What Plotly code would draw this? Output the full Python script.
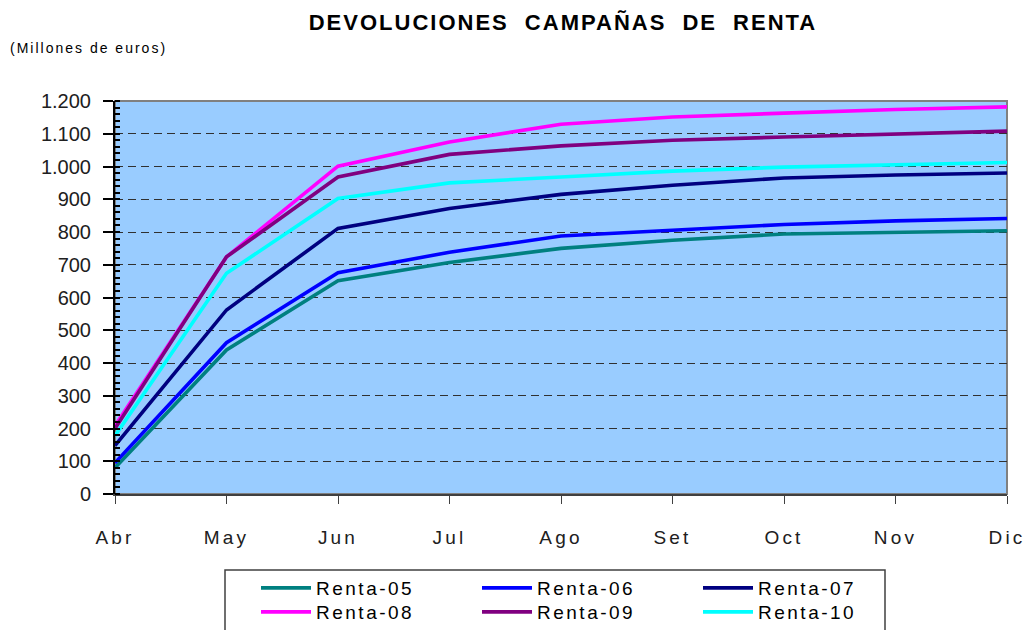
import plotly.graph_objects as go

months = ["Abr", "May", "Jun", "Jul", "Ago", "Set", "Oct", "Nov", "Dic"]
renta_05 = [80, 440, 651, 707, 750, 775, 794, 800, 804]
renta_06 = [95, 462, 676, 738, 788, 806, 823, 834, 841]
renta_07 = [148, 562, 811, 872, 915, 943, 965, 974, 980]
renta_08 = [208, 724, 1001, 1075, 1129, 1151, 1163, 1174, 1182]
renta_09 = [200, 724, 968, 1037, 1063, 1080, 1090, 1100, 1108]
renta_10 = [178, 674, 902, 950, 968, 986, 998, 1006, 1012]

series_names = ["Renta-05", "Renta-06", "Renta-07", "Renta-08", "Renta-09", "Renta-10"]
series_values = [renta_05, renta_06, renta_07, renta_08, renta_09, renta_10]
series_colors = ["#008080", "#0000FF", "#000080", "#FF00FF", "#800080", "#00FFFF"]
series_legend = ["legend", "legend", "legend", "legend2", "legend2", "legend2"]

FONT = "Liberation Sans, Arial, sans-serif"

W, H = 1027, 630
# plot area in window pixels
PL, PR, PT, PB = 115, 1007, 101, 494
PW, PH = PR - PL, PB - PT


def px_x(x):
    return (x - PL) / PW


def px_y(y):
    return (PB - y) / PH


def spaced(txt, ls):
    return f'<span style="letter-spacing:{ls}px">{txt}</span>'


fig = go.Figure()
for name, vals, col, lg in zip(series_names, series_values, series_colors, series_legend):
    fig.add_trace(go.Scatter(
        x=months, y=vals, mode="lines", name=spaced(name, 2.5),
        line=dict(color=col, width=3.6), legend=lg, hoverinfo="skip",
    ))

legend_common = dict(
    orientation="h", xanchor="left", yanchor="top",
    font=dict(family=FONT, size=19, color="black"),
    itemwidth=50, entrywidth=156, entrywidthmode="pixels",
    bgcolor="rgba(0,0,0,0)", borderwidth=0, tracegroupgap=0,
)

fig.update_layout(
    width=W, height=H, autosize=False,
    margin=dict(l=PL, r=W - PR, t=PT, b=H - PB, pad=0, autoexpand=False),
    paper_bgcolor="white", plot_bgcolor="#99CCFF",
    separators=",.",
    font=dict(family=FONT, color="black"),
    title=dict(
        text='<span style="letter-spacing:2px;word-spacing:8px">DEVOLUCIONES CAMPAÑAS DE RENTA</span>',
        x=563 / W, xref="container", xanchor="center",
        y=1 - 22 / H, yref="container", yanchor="middle",
        font=dict(family=FONT, size=22, color="black", weight="bold"),
    ),
    showlegend=True,
    legend=dict(legend_common, x=px_x(256), y=px_y(569)),
    legend2=dict(legend_common, x=px_x(256), y=px_y(593)),
    xaxis=dict(
        type="category", range=[0, 8], automargin=False,
        tickmode="array", tickvals=months,
        ticktext=[spaced(m, 3.2) for m in months],
        showline=True, linecolor="#404040", linewidth=1.5,
        ticks="outside", ticklen=8, tickwidth=1, tickcolor="#404040",
        showgrid=False, zeroline=False,
        tickfont=dict(family=FONT, size=19, color="#202020"),
        ticklabelstandoff=17,
    ),
    yaxis=dict(
        range=[0, 1200], dtick=100, tick0=0, automargin=False,
        separatethousands=True, tickformat=",d",
        showline=True, linecolor="black", linewidth=2,
        ticks="outside", ticklen=10, tickwidth=2, tickcolor="black",
        showgrid=True, gridcolor="#303030", gridwidth=1.3, griddash="8px,5px",
        zeroline=False,
        minor=dict(dtick=20, ticks="inside", ticklen=5, tickwidth=2,
                   tickcolor="black", showgrid=False),
        tickfont=dict(family=FONT, size=20, color="#202020"),
        ticklabelstandoff=8,
    ),
    shapes=[
        dict(type="rect", xref="paper", yref="paper", x0=0, x1=1, y0=0, y1=1,
             line=dict(color="#808080", width=2), layer="below"),
        dict(type="rect", xref="paper", yref="paper",
             x0=px_x(225), x1=px_x(885),
             y0=px_y(570), y1=px_y(660),
             line=dict(color="#404040", width=1.5), fillcolor="rgba(0,0,0,0)"),
    ],
    annotations=[
        dict(text=spaced("(Millones de euros)", 2), xref="paper", yref="paper",
             x=px_x(8), y=px_y(48),
             xanchor="left", yanchor="middle", showarrow=False,
             font=dict(family=FONT, size=14, color="black")),
    ],
)

fig.write_html(
    "out.html",
    config={"displayModeBar": False},
    post_script="document.body.style.margin='0';document.body.style.overflow='hidden';",
)
